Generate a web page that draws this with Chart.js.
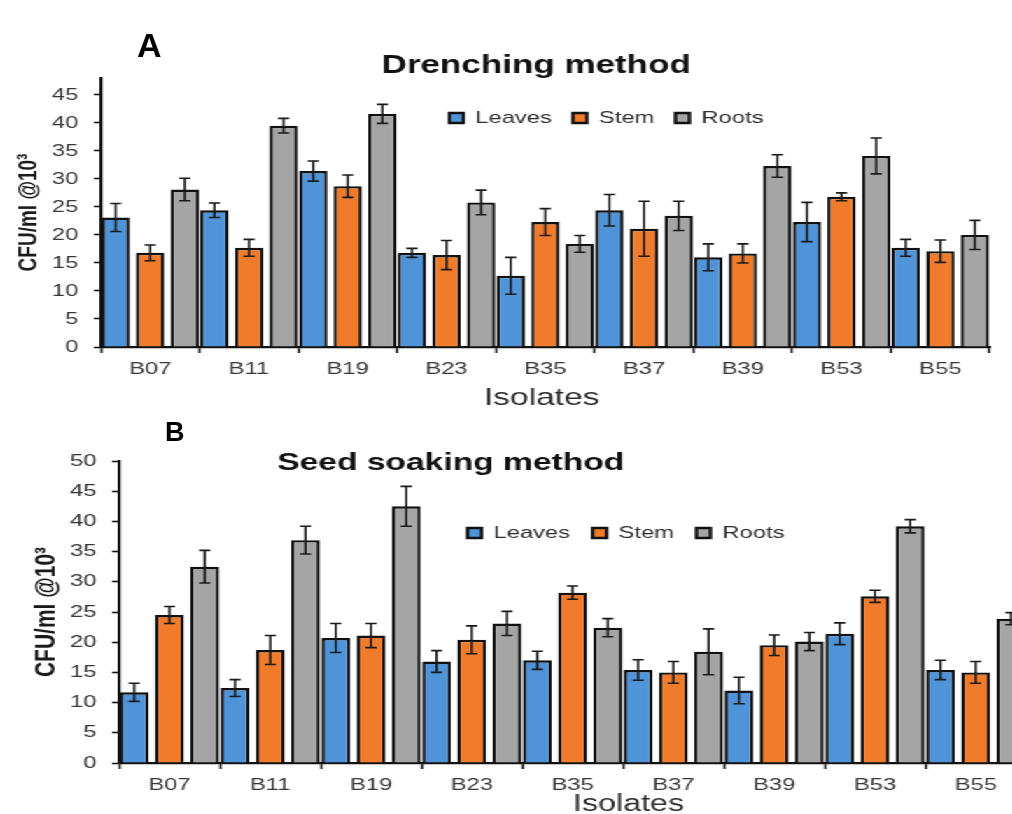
<!DOCTYPE html>
<html>
<head>
<meta charset="utf-8">
<title>CFU per isolate</title>
<script src="https://cdn.jsdelivr.net/npm/chart.js@4.4.1/dist/chart.umd.min.js"></script>
<style>
  html, body { margin: 0; padding: 0; background: #fff; overflow: hidden; width: 1012px; height: 814px; }
  /* the original figure is stretched sideways, so the charts are too */
  #wrap { position: absolute; left: 0; top: 0; width: 745px; transform: scaleX(1.4); transform-origin: 0 0; }
  #wrap canvas { display: block; }
  .panel { position: absolute; font-family: "Liberation Sans", Arial, sans-serif; font-weight: bold; color: #000; line-height: 1; }
</style>
</head>
<body>
<div id="wrap">
  <canvas id="chartA" width="723" height="412"></canvas>
  <canvas id="chartB" width="745" height="402"></canvas>
</div>
<div class="panel" style="left:137px;top:28px;font-size:34px">A</div>
<div class="panel" style="left:165px;top:419px;font-size:27px">B</div>
<script>
const isolates = ['B07', 'B11', 'B19', 'B23', 'B35', 'B37', 'B39', 'B53', 'B55'];
const seriesNames = ['Leaves', 'Stem', 'Roots'];
const yTitle = 'CFU/ml @10³';
const xTitle = 'Isolates';

// A - drenching method
const drenchLeaves = [23.1, 24.4, 31.4, 16.8, 12.7, 24.4, 16.0, 22.3, 17.7];
const drenchLeavesErr = [2.5, 1.3, 1.8, 0.8, 3.3, 2.8, 2.4, 3.5, 1.5];
const drenchStem = [16.8, 17.7, 28.7, 16.4, 22.3, 21.1, 16.7, 26.8, 17.1];
const drenchStemErr = [1.4, 1.5, 2.0, 2.6, 2.4, 4.9, 1.7, 0.7, 2.0];
const drenchRoots = [28.1, 39.5, 41.6, 25.8, 18.4, 23.4, 32.3, 34.1, 20.0];
const drenchRootsErr = [2.0, 1.3, 1.7, 2.2, 1.5, 2.6, 2.0, 3.2, 2.6];

// B - seed soaking method
const soakLeaves = [11.7, 12.4, 20.7, 16.8, 17.0, 15.4, 12.0, 21.4, 15.4];
const soakLeavesErr = [1.5, 1.4, 2.4, 1.8, 1.5, 1.7, 2.2, 1.8, 1.6];
const soakStem = [24.5, 18.7, 21.1, 20.4, 28.2, 15.0, 19.5, 27.6, 15.0];
const soakStemErr = [1.4, 2.4, 2.0, 2.3, 1.1, 1.8, 1.7, 1.0, 1.8];
const soakRoots = [32.5, 36.9, 42.5, 23.1, 22.4, 18.4, 20.1, 39.2, 23.9];
const soakRootsErr = [2.7, 2.3, 3.3, 2.0, 1.5, 3.8, 1.5, 1.1, 1.0];

const colors = ['#4f93d8', '#f07b2b', '#a5a5a5'];

Chart.defaults.font.family = '"Liberation Sans", Arial, sans-serif';

// error bars from dataset.errors
const errorBars = {
  id: 'errorBars',
  afterDatasetsDraw(chart) {
    const ctx = chart.ctx;
    const y = chart.scales.y;
    ctx.save();
    ctx.strokeStyle = '#1a1a1a';
    ctx.lineWidth = 1.6;
    chart.data.datasets.forEach((ds, i) => {
      chart.getDatasetMeta(i).data.forEach((bar, j) => {
        const v = ds.data[j], e = ds.errors[j];
        const top = y.getPixelForValue(v + e);
        const bot = y.getPixelForValue(v - e);
        ctx.beginPath();
        ctx.moveTo(bar.x, top); ctx.lineTo(bar.x, bot);
        ctx.moveTo(bar.x - 4, top); ctx.lineTo(bar.x + 4, top);
        ctx.moveTo(bar.x - 4, bot); ctx.lineTo(bar.x + 4, bot);
        ctx.stroke();
      });
    });
    ctx.restore();
  }
};

// move title / subtitle / legend to where they sit in the figure
const placeBoxes = {
  id: 'placeBoxes',
  afterLayout(chart, args, opts) {
    const lg = chart.legend;
    if (opts.legend && lg) {
      lg.left = opts.legend.x; lg.right = opts.legend.x + 600;
      lg.top = opts.legend.y; lg.bottom = opts.legend.y + 40;
    }
    chart.boxes.forEach(b => {
      if (b === lg || !b.options) return;
      const p = opts[b.options.text];
      if (!p) return;
      const f = b.options.font;
      const lh = f.size * (f.lineHeight || 1.2);
      const pt = b._padding ? b._padding.top : 0;
      const w = b.right - b.left;
      b.left = p.x - w / 2; b.right = p.x + w / 2;
      b.top = p.y - pt - lh / 2; b.bottom = b.top + b.height;
    });
  }
};

function makeChart(id, o) {
  return new Chart(document.getElementById(id), {
    type: 'bar',
    data: {
      labels: isolates,
      datasets: o.series.map((s, i) => ({
        label: seriesNames[i],
        data: s[0],
        errors: s[1],
        backgroundColor: colors[i]
      }))
    },
    options: {
      responsive: false,
      animation: false,
      events: [],
      layout: { padding: o.pad },
      datasets: {
        bar: { borderColor: '#111', borderWidth: 2.4, categoryPercentage: 1.05, barPercentage: 0.82 }
      },
      scales: {
        x: {
          grid: { offset: true, drawOnChartArea: false, tickLength: 6, tickColor: '#111', tickWidth: 1.6 },
          border: { color: '#111', width: 2.2 },
          ticks: { color: '#383838', font: { size: 17 }, padding: 6 },
          afterFit(scale) { scale.height = o.xHeight; }
        },
        y: {
          min: 0,
          max: o.yMax,
          grid: { drawOnChartArea: false, tickLength: 5, tickColor: '#111', tickWidth: 1.6 },
          border: { color: '#111', width: 2.2 },
          ticks: { stepSize: 5, includeBounds: false, color: '#383838', font: { size: 17 }, padding: 11 },
          title: {
            display: true, text: yTitle, color: '#1a1a1a',
            font: { size: o.yFont, weight: 'bold', lineHeight: 1.2 },
            padding: { top: o.yTitlePad, bottom: 0 }
          },
          afterFit(scale) { scale.width = o.yWidth; }
        }
      },
      plugins: {
        title: {
          display: true, text: o.title, fullSize: false, color: '#111',
          font: { size: o.titleFont, weight: 'bold', lineHeight: 1 },
          padding: { top: o.titlePad, bottom: 0 }
        },
        subtitle: {
          display: true, position: 'bottom', text: xTitle, color: '#2e2e2e',
          font: { size: o.xFont, weight: 'normal', lineHeight: 1 },
          padding: { top: o.subPad, bottom: 0 }
        },
        legend: {
          position: 'top', align: 'start', maxHeight: 0.01,
          labels: { boxWidth: 10, boxHeight: 10, padding: o.legendPad, color: '#2e2e2e', font: { size: 17 } }
        },
        tooltip: { enabled: false },
        placeBoxes: o.place
      }
    },
    plugins: [errorBars, placeBoxes]
  });
}

makeChart('chartA', {
  series: [[drenchLeaves, drenchLeavesErr], [drenchStem, drenchStemErr], [drenchRoots, drenchRootsErr]],
  title: 'Drenching method',
  titleFont: 25, titlePad: 53,
  yMax: 48, yWidth: 72, yFont: 19, yTitlePad: 9,
  xHeight: 30, xFont: 24, subPad: 9,
  legendPad: 15,
  pad: { top: 0, left: 0, right: 16, bottom: 2 },
  place: {
    'Drenching method': { x: 383, y: 66 },
    'Isolates': { x: 387, y: 398 },
    legend: { x: 306, y: 94.5 }
  }
});

makeChart('chartB', {
  series: [[soakLeaves, soakLeavesErr], [soakStem, soakStemErr], [soakRoots, soakRootsErr]],
  title: 'Seed soaking method',
  titleFont: 24, titlePad: 25,
  yMax: 50, yWidth: 85, yFont: 21, yTitlePad: 21,
  xHeight: 28, xFont: 23, subPad: 0,
  legendPad: 16,
  pad: { top: 0, left: 0, right: 12, bottom: 0 },
  place: {
    'Seed soaking method': { x: 322, y: 51 },
    'Isolates': { x: 449, y: 392.5 },
    legend: { x: 318, y: 96.5 }
  }
});
</script>
</body>
</html>
